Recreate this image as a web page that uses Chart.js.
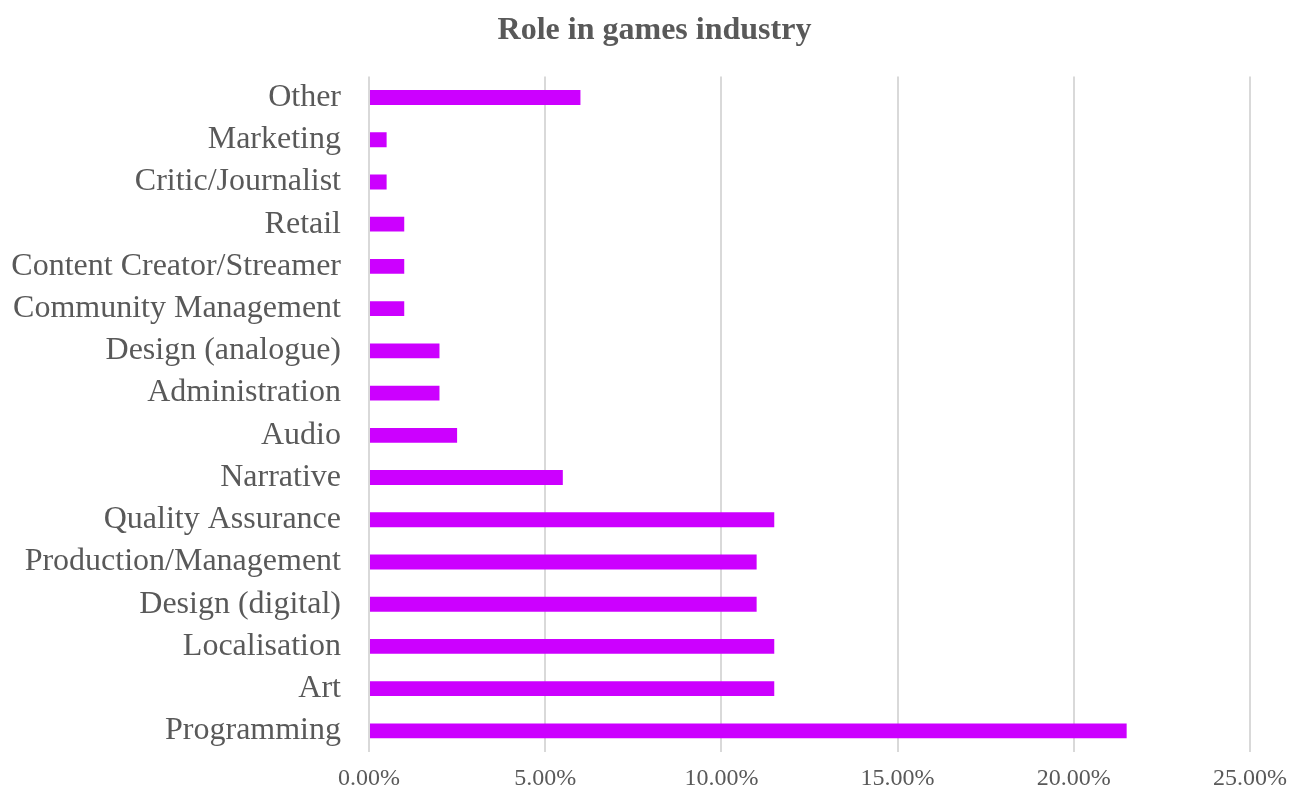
<!DOCTYPE html>
<html>
<head>
<meta charset="utf-8">
<title>Role in games industry</title>
<script src="https://cdn.jsdelivr.net/npm/chart.js@4"></script>
<style>
    html, body { margin: 0; padding: 0; background: #ffffff; }
    #wrap { width: 1301px; height: 791px; }
</style>
</head>
<body>
<div id="wrap"><canvas id="rolesChart"></canvas></div>
<script>
// roles listed bottom to top, share of respondents in percent
const roles = [
    'Programming',
    'Art',
    'Localisation',
    'Design (digital)',
    'Production/Management',
    'Quality Assurance',
    'Narrative',
    'Audio',
    'Administration',
    'Design (analogue)',
    'Community Management',
    'Content Creator/Streamer',
    'Retail',
    'Critic/Journalist',
    'Marketing',
    'Other'
];
const shares = [21.5, 11.5, 11.5, 11.0, 11.0, 11.5, 5.5, 2.5, 2.0, 2.0, 1.0, 1.0, 1.0, 0.5, 0.5, 6.0];
const axisTicks = [0, 5, 10, 15, 20, 25];

const textGrey = '#595959';
const serif = "'Liberation Serif', 'Times New Roman', serif";

function initializeRolesChart() {
    const ctx = document.getElementById('rolesChart');
    if(!ctx) return;

    new Chart(ctx, {
        type: 'bar',
        data: {
            labels: roles,
            datasets: [{
                label: 'Role',
                data: shares,
                backgroundColor: '#cc00ff',
                borderWidth: 0,
                categoryPercentage: 0.8,
                barPercentage: 0.44
            }]
        },
        options: {
            indexAxis: 'y',
            responsive: true,
            maintainAspectRatio: false,
            animation: false,
            layout: {
                padding: { left: 8, right: 0, top: 0, bottom: 0 }
            },
            plugins: {
                legend: { display: false },
                tooltip: { enabled: false },
                title: {
                    display: true,
                    text: 'Role in games industry',
                    color: textGrey,
                    font: { family: serif, size: 32, weight: 'bold' },
                    padding: { top: 12, bottom: 26 }
                }
            },
            scales: {
                x: {
                    min: axisTicks[0],
                    max: axisTicks[axisTicks.length - 1],
                    afterBuildTicks: function(scale) {
                        scale.ticks = axisTicks.map(function(v) { return { value: v }; });
                    },
                    border: { display: false },
                    grid: {
                        color: '#d9d9d9',
                        lineWidth: 2,
                        drawTicks: false
                    },
                    ticks: {
                        color: textGrey,
                        padding: 12,
                        font: { family: serif, size: 24 },
                        callback: function(value) {
                            return Number(value).toFixed(2) + '%';
                        }
                    },
                    afterFit: function(scale) {
                        // room on the right for the last tick label
                        scale.height = 39;
                        scale.paddingRight = 51;
                    }
                },
                y: {
                    reverse: true,
                    border: { display: false },
                    grid: { display: false, drawTicks: false },
                    ticks: {
                        color: textGrey,
                        padding: 28,
                        autoSkip: false,
                        font: { family: serif, size: 32 }
                    },
                    afterFit: function(scale) {
                        // category labels sit inside their bands, no overhang needed
                        scale.width = 361;
                        scale.paddingTop = 0;
                        scale.paddingBottom = 0;
                    }
                }
            }
        }
    });
}

if(document.readyState === 'loading') {
    document.addEventListener('DOMContentLoaded', initializeRolesChart);
} else {
    initializeRolesChart();
}
</script>
</body>
</html>
